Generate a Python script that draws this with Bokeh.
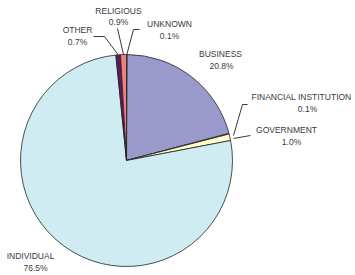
import math
from bokeh.plotting import figure
from bokeh.models import Range1d
from bokeh.core.properties import value
from bokeh.embed import file_html
from bokeh.resources import INLINE

categories = ["UNKNOWN", "BUSINESS", "FINANCIAL INSTITUTION", "GOVERNMENT",
              "INDIVIDUAL", "OTHER", "RELIGIOUS"]
shares = [0.1, 20.8, 0.1, 1.0, 76.5, 0.7, 0.9]
pct_labels = ["0.1%", "20.8%", "0.1%", "1.0%", "76.5%", "0.7%", "0.9%"]
colors = ["#993333", "#9999CC", "#FFFFCC", "#FFFFCC", "#CFECF3", "#5E1A5E", "#F08080"]

W, H = 355, 275
p = figure(width=W, height=H, output_backend="svg", toolbar_location=None,
           x_range=Range1d(0, W), y_range=Range1d(0, H), min_border=0)
p.axis.visible = False
p.grid.visible = False
p.outline_line_color = None
p.background_fill_color = "white"

# pie geometry (pixel-like data units)
cx, cy, r = 126, 275 - 160, 106

total = sum(shares)
starts, ends, mids = [], [], []
cum = 0.0
for s in shares:
    a0 = math.pi / 2 - 2 * math.pi * (cum + s) / total
    a1 = math.pi / 2 - 2 * math.pi * cum / total
    starts.append(a0)
    ends.append(a1)
    mids.append((a0 + a1) / 2)
    cum += s

p.wedge(x=cx, y=cy, radius=r, start_angle=starts, end_angle=ends,
        fill_color=colors, line_color="#222222", line_width=0.8,
        direction="anticlock")

def img(xi, yi):
    return xi, H - yi

def edge(i):
    return cx + r * math.cos(mids[i]), cy + r * math.sin(mids[i])

# label positions (image coordinates: name line, percent line)
label_pos = {
    "UNKNOWN": ((169, 23), (169, 35)),
    "BUSINESS": ((220, 53), (221, 65)),
    "FINANCIAL INSTITUTION": ((301, 96), (307, 108)),
    "GOVERNMENT": ((286, 129), (291, 141)),
    "INDIVIDUAL": ((30, 255), (35, 267)),
    "OTHER": ((77, 29), (77, 41)),
    "RELIGIOUS": ((118, 10), (118, 21)),
}

# leader lines: intermediate points in image coords
leaders = {
    "RELIGIOUS": [(117, 28)],
    "OTHER": [(93, 36), (104, 36)],
    "UNKNOWN": [(139, 29), (133, 29)],
    "FINANCIAL INSTITUTION": [(247, 104), (242, 104)],
    "GOVERNMENT": [(250, 135)],
}

for i, name in enumerate(categories):
    if name in leaders:
        pts = [img(*q) for q in leaders[name]]
        ex, ey = edge(i)
        if name == "FINANCIAL INSTITUTION":
            ex, ey = img(233, 135)
        if name == "GOVERNMENT":
            ex, ey = img(233, 138)
        xs = [q[0] for q in pts] + [ex]
        ys = [q[1] for q in pts] + [ey]
        p.line(xs, ys, line_color="#222222", line_width=0.9)

for i, name in enumerate(categories):
    (n1, n2) = label_pos[name]
    x1, y1 = img(*n1)
    x2, y2 = img(*n2)
    p.text(x=[x1], y=[y1], text=[name], text_font=value("Liberation Sans"),
           text_font_size="8.5px", text_color="#3A3A3A", text_align="center",
           text_baseline="middle")
    p.text(x=[x2], y=[y2], text=[pct_labels[i]], text_font=value("Liberation Sans"),
           text_font_size="8.5px", text_color="#3A3A3A", text_align="center",
           text_baseline="middle")

open("out.html", "w").write(file_html(p, INLINE))
